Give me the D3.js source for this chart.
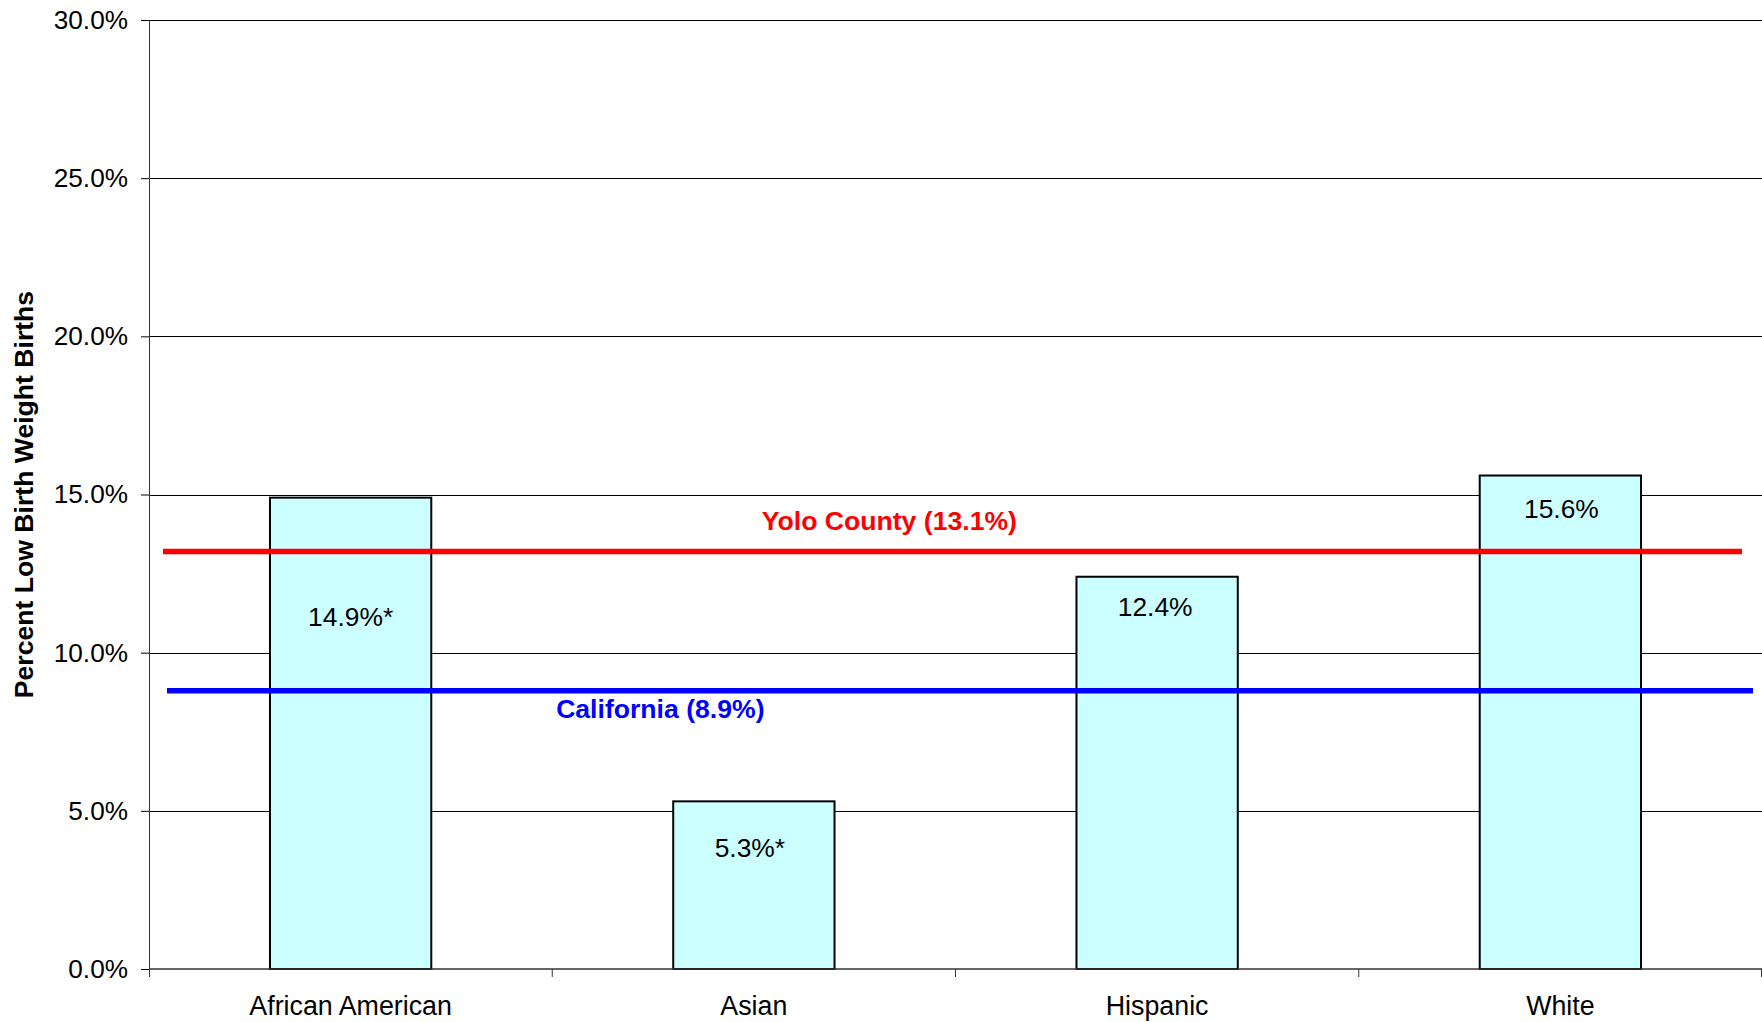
<!DOCTYPE html>
<html>
<head>
<meta charset="utf-8">
<script src="https://cdn.jsdelivr.net/npm/d3@7"></script>
<style>
  html, body { margin: 0; padding: 0; background: #fff; }
  svg { display: block; font-family: "Liberation Sans", Arial, sans-serif; }
</style>
</head>
<body>
<div id="chart"></div>
<script>
// Low birth weight births by race/ethnicity
const categories = ['African American', 'Asian', 'Hispanic', 'White'];
const rates = [14.9, 5.3, 12.4, 15.6];
const rateLabels = ['14.9%*', '5.3%*', '12.4%', '15.6%'];
const yTicks = [0, 5, 10, 15, 20, 25, 30];

// Reference lines (position, label as printed)
const refNames = ['Yolo County (13.1%)', 'California (8.9%)'];
const refValues = [13.2, 8.8];
const refColors = ['#ff0000', '#0000ff'];

// Layout tweaks
const labelOffsets = [128, 56, 39, 42];          // baseline below bar top
const labelShiftX = [0, -4, -2, 1];
const refLineInset = [[14, 20], [18, 9]];        // [left, right] inset of each line
const refLabelX = [0.459, 0.317];                // fraction of plot width
const refLabelDy = [-21, 27];                    // baseline relative to line
const fontSize = '26.6px';

const width = 1762, height = 1022;
const margin = { top: 20, right: 0, bottom: 53, left: 149 };
const plotW = width - margin.left - margin.right;
const plotH = height - margin.top - margin.bottom;

const svg = d3.select('#chart')
    .append('svg')
    .attr('width', width)
    .attr('height', height);

const g = svg.append('g')
    .attr('transform', `translate(${margin.left},${margin.top})`);

const x = d3.scaleBand()
    .domain(categories)
    .range([0, plotW])
    .paddingInner(0.6)
    .paddingOuter(0.3);

const y = d3.scaleLinear()
    .domain([0, 30])
    .range([plotH, 0]);

// Gridlines
g.selectAll('.grid')
    .data(yTicks.filter(d => d > 0))
    .enter()
    .append('line')
    .attr('class', 'grid')
    .attr('x1', 0)
    .attr('x2', plotW)
    .attr('y1', d => Math.round(y(d)) + 0.5)
    .attr('y2', d => Math.round(y(d)) + 0.5)
    .attr('stroke', '#000')
    .attr('stroke-width', 1);

// Y axis
const yAxis = g.append('g')
    .call(d3.axisLeft(y)
        .tickValues(yTicks)
        .tickFormat(d => d.toFixed(1) + '%')
        .tickSize(8)
        .tickPadding(13));
yAxis.select('.domain').remove();
yAxis.selectAll('.tick line').attr('stroke', '#000');
yAxis.selectAll('.tick text')
    .attr('font-size', '26.2px')
    .attr('font-family', '"Liberation Sans", Arial, sans-serif')
    .attr('fill', '#000');

g.append('line')
    .attr('x1', 0.5).attr('x2', 0.5)
    .attr('y1', 0).attr('y2', plotH + 8)
    .attr('stroke', '#333');

// Bars
g.selectAll('.bar')
    .data(rates)
    .enter()
    .append('rect')
    .attr('class', 'bar')
    .attr('x', (d, i) => x(categories[i]))
    .attr('y', d => y(d))
    .attr('width', x.bandwidth())
    .attr('height', d => plotH - y(d))
    .attr('fill', '#ccffff')
    .attr('stroke', '#000')
    .attr('stroke-width', 2);

// X axis line and category separators
g.append('line')
    .attr('x1', 0).attr('x2', plotW)
    .attr('y1', plotH).attr('y2', plotH)
    .attr('stroke', '#333')
    .attr('stroke-width', 1.5);

const step = x.step();
g.selectAll('.sep')
    .data(categories)
    .enter()
    .append('line')
    .attr('class', 'sep')
    .attr('x1', d => Math.min(x(d) - step * 0.3 + step, plotW - 0.5))
    .attr('x2', d => Math.min(x(d) - step * 0.3 + step, plotW - 0.5))
    .attr('y1', plotH)
    .attr('y2', plotH + 8)
    .attr('stroke', '#333');

// Category labels
g.selectAll('.cat')
    .data(categories)
    .enter()
    .append('text')
    .attr('class', 'cat')
    .attr('x', d => x(d) + x.bandwidth() / 2)
    .attr('y', plotH + 46)
    .attr('text-anchor', 'middle')
    .attr('font-size', '26.8px')
    .attr('fill', '#000')
    .text(d => d);

// Reference lines
g.selectAll('.ref')
    .data(refValues)
    .enter()
    .append('line')
    .attr('class', 'ref')
    .attr('x1', (d, i) => refLineInset[i][0])
    .attr('x2', (d, i) => plotW - refLineInset[i][1])
    .attr('y1', d => y(d))
    .attr('y2', d => y(d))
    .attr('stroke', (d, i) => refColors[i])
    .attr('stroke-width', 5.5);

g.selectAll('.ref-label')
    .data(refNames)
    .enter()
    .append('text')
    .attr('class', 'ref-label')
    .attr('x', (d, i) => plotW * refLabelX[i])
    .attr('y', (d, i) => y(refValues[i]) + refLabelDy[i])
    .attr('text-anchor', 'middle')
    .attr('font-size', fontSize)
    .attr('font-weight', 'bold')
    .attr('fill', (d, i) => refColors[i])
    .text(d => d);

// Value labels
g.selectAll('.val')
    .data(rates)
    .enter()
    .append('text')
    .attr('class', 'val')
    .attr('x', (d, i) => x(categories[i]) + x.bandwidth() / 2 + labelShiftX[i])
    .attr('y', (d, i) => y(d) + labelOffsets[i])
    .attr('text-anchor', 'middle')
    .attr('font-size', '26.4px')
    .attr('fill', '#000')
    .text((d, i) => rateLabels[i]);

// Y axis title
svg.append('text')
    .attr('transform', `translate(33,${margin.top + plotH / 2}) rotate(-90)`)
    .attr('text-anchor', 'middle')
    .attr('font-size', fontSize)
    .attr('font-weight', 'bold')
    .attr('fill', '#000')
    .text('Percent Low Birth Weight Births');
</script>
</body>
</html>
